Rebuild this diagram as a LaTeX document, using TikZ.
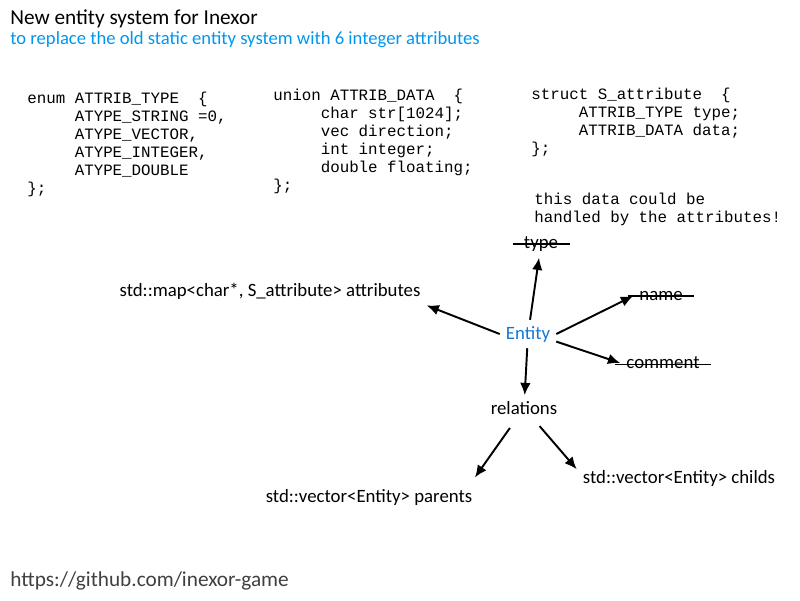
\documentclass[tikz,border=0pt]{standalone}
\usepackage{fontspec}
\setmainfont{Carlito}
\newfontfamily\codefont{Liberation Mono}
\usetikzlibrary{arrows.meta}
\definecolor{subblue}{RGB}{0,150,240}
\definecolor{entblue}{RGB}{20,120,215}
\definecolor{urlgrey}{RGB}{64,64,64}

\begin{document}
\begin{tikzpicture}[x=0.02cm,y=-0.02cm,
    code/.style={anchor=north west,align=left,inner sep=0pt,font=\codefont\fontsize{9}{10.2}\selectfont},
    lbl/.style={font=\fontsize{10.7}{12}\selectfont},
    head/.style={anchor=base west,inner sep=0pt,font=\fontsize{12.1}{14}\selectfont},
    arr/.style={-{Latex[length=7pt,width=6pt]},line width=1.1pt},
    strike/.style={line width=0.8pt}]
\useasboundingbox (0,0) rectangle (800,600);
\node[head] (title) at (10,24.5) {New entity system for Inexor};
\node[head,text=subblue,font=\fontsize{10.6}{12}\selectfont] (sub) at (10,44.5) {to replace the old static entity system with 6 integer attributes};
\node[code] (enum) at (27,92) {enum ATTRIB\_TYPE~~\{\\
\hspace*{3em}ATYPE\_STRING =0,\\
\hspace*{3em}ATYPE\_VECTOR,\\
\hspace*{3em}ATYPE\_INTEGER,\\
\hspace*{3em}ATYPE\_DOUBLE\\
\};};
\node[code] (union) at (273,89) {union ATTRIB\_DATA~~\{\\
\hspace*{3em}char str[1024];\\
\hspace*{3em}vec direction;\\
\hspace*{3em}int integer;\\
\hspace*{3em}double floating;\\
\};};
\node[code] (struct) at (531,88) {struct S\_attribute~~\{\\
\hspace*{3em}ATTRIB\_TYPE type;\\
\hspace*{3em}ATTRIB\_DATA data;\\
\};};
\node[code] (note) at (534,193) {this data could be\\
handled by the attributes!};
\node[lbl,text=entblue] (ent) at (528,334) {Entity};
\node[lbl] (typ) at (541,244) {type};
\node[lbl] (nam) at (661,296) {name};
\node[lbl] (com) at (663,363) {comment};
\node[lbl] (attr) at (270,291) {std::map<char*, S\_attribute> attributes};
\node[lbl] (rel) at (524,408) {relations};
\node[lbl] (par) at (369,497) {std::vector<Entity> parents};
\node[lbl] (chi) at (679,478) {std::vector<Entity> childs};
\foreach \n in {typ,nam,com}
  \draw[strike] ([xshift=-3pt,yshift=2.5pt]\n.base west) -- ([xshift=3pt,yshift=2.5pt]\n.base east);
\draw[arr] (ent) -- (typ);
\draw[arr] (ent.east) -- (nam.west);
\draw[arr] (ent.-15) -- (com.west);
\draw[arr] (ent.west) -- (attr.south east);
\draw[arr] (ent) -- (rel);
\draw[arr,shorten <=5pt] (rel) -- ([xshift=-2pt,yshift=3pt]par.north east);
\draw[arr,shorten <=4pt] (rel) -- ([yshift=5pt]chi.west);
\node[head,text=urlgrey] (url) at (10,586) {https://github.com/inexor-game};
\end{tikzpicture}
\end{document}
